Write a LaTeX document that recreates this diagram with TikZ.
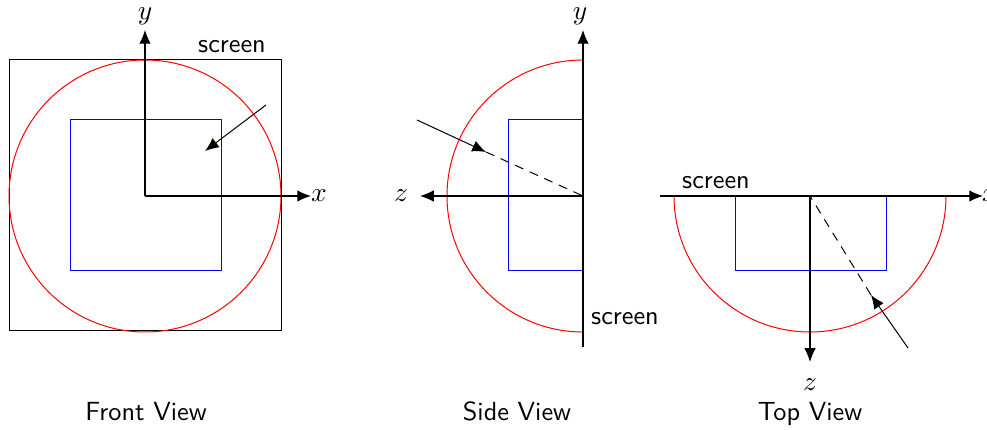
\documentclass[tikz,border=0pt]{standalone}
\usetikzlibrary{arrows.meta}
\begin{document}
\begin{tikzpicture}[x=0.4pt,y=-0.4pt,
  every node/.style={font=\fontsize{10.5pt}{12pt}\selectfont},
  ax/.style={line width=0.45pt,-{Latex[length=5.5pt,width=4.6pt]}},
  ray/.style={line width=0.4pt,-{Latex[length=5.5pt,width=4.6pt]}},
  dray/.style={line width=0.4pt,dash pattern=on 3.6pt off 2.8pt},
  lbl/.style={font=\fontsize{10.5pt}{12pt}\selectfont\sffamily,anchor=base},
  redc/.style={red,line width=0.4pt},
  bluer/.style={blue,line width=0.4pt}]
\useasboundingbox (0,0) rectangle (987,430);
% ---------- Front view ----------
\coordinate (fo) at (145,196);
\coordinate (fy) at (145,30);
\coordinate (fx) at (311,196);
\draw[line width=0.4pt] (9,60) rectangle (281,331);
\draw[redc] (fo) circle [radius=54.4pt];
\draw[bluer] (70,120) rectangle (221,271);
\draw[ax] (fo) -- (fy);
\draw[ax] (fo) -- (fx);
\node (fyl) at (145,16) {$y$};
\node (fxl) at (319,196) {$x$};
\node[lbl] (fscr) at (232,53) {screen};
\coordinate (fa1) at (266,105);
\coordinate (fa2) at (205,151);
\draw[ray] (fa1) -- (fa2);
\node[lbl] (ftitle) at (146,421) {Front View};
% ---------- Side view ----------
\coordinate (so) at (583,196);
\coordinate (sbot) at (583,347);
\coordinate (sy) at (583,30);
\coordinate (sz) at (420,196);
\draw[redc] (583,60) arc [start angle=90,end angle=270,radius=54.4pt];
\draw[bluer] (583,120) -- (508,120) -- (508,271) -- (583,271);
\draw[ax] (sbot) -- (sy);
\draw[ax] (so) -- (sz);
\node (syl) at (580,16) {$y$};
\node (szl) at (401,196) {$z$};
\node[lbl] (sscr) at (625,325) {screen};
\coordinate (sa1) at (417,120);
\coordinate (sa2) at (486,152);
\draw[ray] (sa1) -- (sa2);
\draw[dray] (sa2) -- (so);
\node[lbl] (stitle) at (517,421) {Side View};
% ---------- Top view ----------
\coordinate (to) at (810,196);
\coordinate (tl) at (660,196);
\coordinate (tx) at (983,196);
\coordinate (tz) at (810,362);
\draw[redc] (674,196) arc [start angle=180,end angle=360,radius=54.4pt];
\draw[bluer] (735,196) -- (735,271) -- (886,271) -- (886,196);
\draw[ax] (tl) -- (tx);
\draw[ax] (to) -- (tz);
\node (txl) at (990,196) {$x$};
\node (tzl) at (810,385) {$z$};
\node[lbl] (tscr) at (716,189) {screen};
\coordinate (ta1) at (908,348);
\coordinate (ta2) at (871,295);
\draw[ray] (ta1) -- (ta2);
\draw[dray] (ta2) -- (to);
\node[lbl] (ttitle) at (810,421) {Top View};
\end{tikzpicture}
\end{document}
